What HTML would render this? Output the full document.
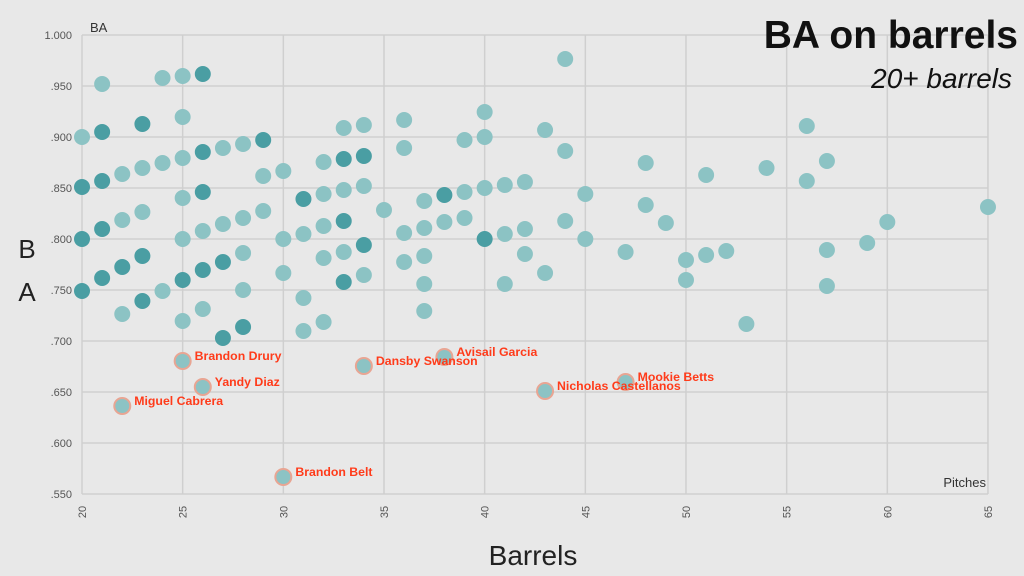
<!DOCTYPE html>
<html><head><style>
body{margin:0;width:1024px;height:576px;background:#e8e8e8;overflow:hidden}
svg{display:block;font-family:"Liberation Sans",sans-serif}
</style></head><body>
<svg width="1024" height="576" id="s">
<rect width="1024" height="576" fill="#e8e8e8"/>
<g id="grid" stroke="#cfcfcf" stroke-width="1.5"></g>
<g id="dots"></g>
<g id="labs" font-size="12.3" font-weight="bold" fill="#ff3b1a"></g>
<text x="90" y="32" font-size="13" fill="#333">BA</text>
<text x="986" y="487" font-size="13" fill="#333" text-anchor="end">Pitches</text>
<text x="1018" y="48" font-size="39" font-weight="bold" text-anchor="end" fill="#111">BA on barrels</text>
<text x="1012" y="88" font-size="28" font-style="italic" text-anchor="end" fill="#111">20+ barrels</text>
<text x="533" y="565" font-size="28" text-anchor="middle" fill="#222">Barrels</text>
<text x="27" y="258" font-size="26" text-anchor="middle" fill="#222">B</text>
<text x="27" y="301" font-size="26" text-anchor="middle" fill="#222">A</text>
</svg>
<script>
var ns="http://www.w3.org/2000/svg",g=document.getElementById('grid'),d=document.getElementById('dots'),L=document.getElementById('labs'),s=document.getElementById('s');
function el(t,a,p){var e=document.createElementNS(ns,t);for(var k in a)e.setAttribute(k,a[k]);p.appendChild(e);return e}
function X(v){return 82+(v-20)*20.133}
var yl=["1.000",".950",".900",".850",".800",".750",".700",".650",".600",".550"];
for(var i=0;i<10;i++){var y=35+i*51;el('line',{x1:82,x2:988,y1:y,y2:y},g);var t=el('text',{x:72,y:y+4,'font-size':11,fill:'#555','text-anchor':'end'},s);t.textContent=yl[i];}
for(var v=20;v<=65;v+=5){var x=X(v);el('line',{x1:x,x2:x,y1:35,y2:494},g);var t=el('text',{transform:'translate('+(x+4)+',512) rotate(-90)','font-size':11,fill:'#555','text-anchor':'middle'},s);t.textContent=v;}
var P={20:"137,187d,239d,291d",21:"84,132d,181d,229d,278d",22:"174,220,267d,314",23:"124d,168,212,256d,301d",24:"78,163,291",25:"76,117,158,198,239,280d,321",26:"74d,152d,192d,231,270d,309",27:"148,224,262d,338d",28:"144,218,253,290,327d",29:"140d,176,211",30:"171,239,273",31:"199d,234,298,331",32:"162,194,226,258,322",33:"128,159d,190,221d,252,282d",34:"125,156d,186,245d,275",35:"210",36:"120,148,233,262",37:"201,228,256,284,311",38:"195d,222",39:"140,192,218",40:"112,137,188,239d",41:"185,234,284",42:"182,229,254",43:"130,273",44:"59,151,221",45:"194,239",47:"252",48:"163,205",49:"223",50:"260,280",51:"175,255",52:"251",53:"324",54:"168",56:"126,181",57:"161,250,286",59:"243",60:"222",65:"207"};
for(var k in P){P[k].split(',').forEach(function(p){var dk=p.indexOf('d')>=0;el('circle',{cx:X(+k),cy:parseFloat(p),r:8,fill:dk?'#4a9ea3':'#8cc3c4'},d);});}
var N=[[22,406,"Miguel Cabrera"],[25,361,"Brandon Drury"],[26,387,"Yandy Diaz"],[30,477,"Brandon Belt"],[34,366,"Dansby Swanson"],[38,357,"Avisail Garcia"],[43,391,"Nicholas Castellanos"],[47,382,"Mookie Betts"]];
N.forEach(function(n){var x=X(n[0]);el('circle',{cx:x,cy:n[1],r:8,fill:'#8cc3c4',stroke:'#e8a593','stroke-width':2},d);var t=el('text',{x:x+12,y:n[1]-1},L);t.textContent=n[2];});
</script>
</body></html>
